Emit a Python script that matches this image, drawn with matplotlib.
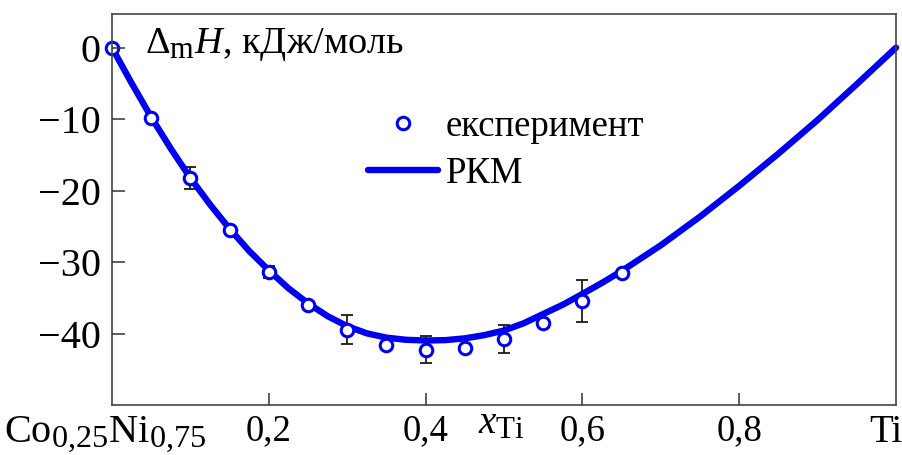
import numpy as np
import matplotlib
matplotlib.use("Agg")
import matplotlib.pyplot as plt
import matplotlib._mathtext as mathtext_internals
from matplotlib.transforms import blended_transform_factory

plt.rcParams["font.family"] = ["Liberation Serif", "DejaVu Serif"]
plt.rcParams["mathtext.fontset"] = "custom"
plt.rcParams["mathtext.rm"] = "Liberation Serif"
plt.rcParams["mathtext.it"] = "Liberation Serif:italic"
plt.rcParams["axes.unicode_minus"] = True
# larger subscripts than the mathtext default
mathtext_internals.SHRINK_FACTOR = 0.8

# Experimental enthalpy of mixing, kJ/mol
x_exp = [0.0, 0.05, 0.10, 0.15, 0.20, 0.25, 0.30, 0.35, 0.40, 0.45, 0.50, 0.55, 0.60, 0.65]
h_exp = [0.0, -9.85, -18.2, -25.5, -31.35, -36.0, -39.4, -41.5, -42.2, -41.9, -40.7, -38.5, -35.35, -31.5]
h_err = [0.0, 0.0, 1.5, 0.0, 0.8, 0.0, 2.0, 0.0, 1.9, 0.0, 1.95, 0.0, 2.95, 0.0]

# Model curve (РКМ)
x_model = [0.0, 0.025, 0.05, 0.075, 0.10, 0.125, 0.15, 0.175, 0.20, 0.225, 0.25,
           0.275, 0.30, 0.325, 0.35, 0.375, 0.40, 0.425, 0.45, 0.475, 0.50,
           0.525, 0.55, 0.575, 0.60, 0.625, 0.65, 0.70, 0.75, 0.80, 0.85,
           0.90, 0.95, 1.0]
h_model = [0.0, -4.95, -9.7, -14.1, -18.2, -21.9, -25.3, -28.4, -31.1, -33.6, -35.7,
           -37.5, -38.9, -39.9, -40.5, -40.8, -40.9, -40.85, -40.6, -40.15, -39.5,
           -38.5, -37.2, -35.9, -34.4, -32.85, -31.2, -27.6, -23.6, -19.3, -14.8,
           -10.1, -5.1, 0.0]

x_ticks = [0.2, 0.4, 0.6, 0.8]
x_ticklabels = ["0,2", "0,4", "0,6", "0,8"]
y_ticks = [0, -10, -20, -30, -40]
y_ticklabels = ["0", "\u221210", "\u221220", "\u221230", "\u221240"]

blue = "#0000f0"

fig = plt.figure(figsize=(9.03, 4.55), dpi=100)
ax = fig.add_axes([0.124, 0.110, 0.8683, 0.8593])

x_e = np.array(x_exp)
h_e = np.array(h_exp)
err = np.array(h_err)
has_err = err > 0
ax.errorbar(x_e[has_err], h_e[has_err], yerr=err[has_err], fmt="none",
            ecolor="#1a1a1a", elinewidth=1.3, capsize=4, capthick=1.3, zorder=1.5)
line, = ax.plot(x_model, h_model, color=blue, lw=4.6, solid_capstyle="round",
                solid_joinstyle="round", zorder=2, clip_on=False, label="РКМ")
pts, = ax.plot(x_exp, h_exp, "o", ms=9, mew=2.2, mfc="white", mec=blue,
               zorder=2.2, clip_on=False, label="експеримент")

ax.set_xlim(0, 1)
ax.set_ylim(-49.9, 4.7)
ax.set_axisbelow(False)

ax.set_xticks(x_ticks)
ax.set_xticklabels(x_ticklabels)
ax.set_yticks(y_ticks)
ax.set_yticklabels(y_ticklabels)
ax.tick_params(direction="in", length=9, width=1.1, color="#333333",
               labelsize=26.5, pad=6)
ax.tick_params(axis="y", pad=8, labelsize=29)
for s in ax.spines.values():
    s.set_color("#444444")
    s.set_linewidth(1.2)

tr = blended_transform_factory(ax.transData, fig.transFigure)
base = 1 - 441.7 / 455
ax.text(-0.009, base, r"Co$_{\mathrm{0{,}25}}$Ni$_{\mathrm{0{,}75}}$", transform=tr,
        ha="center", va="baseline", fontsize=29)
ax.text(0.9866, base, "Ti", transform=tr, ha="center", va="baseline", fontsize=28)
ax.text(0.497, 1 - 433 / 455, r"$x_{\mathrm{Ti}}$", transform=tr,
        ha="center", va="baseline", fontsize=28)

ax.text(0.042, 0.900, r"$\Delta_{\mathrm{m}}H$, кДж/моль", transform=ax.transAxes,
        ha="left", va="baseline", fontsize=27.5)

ax.legend(handles=[pts, line], loc="center left", bbox_to_anchor=(0.327, 0.652),
          frameon=False, fontsize=26.5, borderpad=0, borderaxespad=0,
          handlelength=1.9, handletextpad=0.2, labelspacing=0.33, markerscale=1.0)

fig.savefig("out.png", dpi=100)
